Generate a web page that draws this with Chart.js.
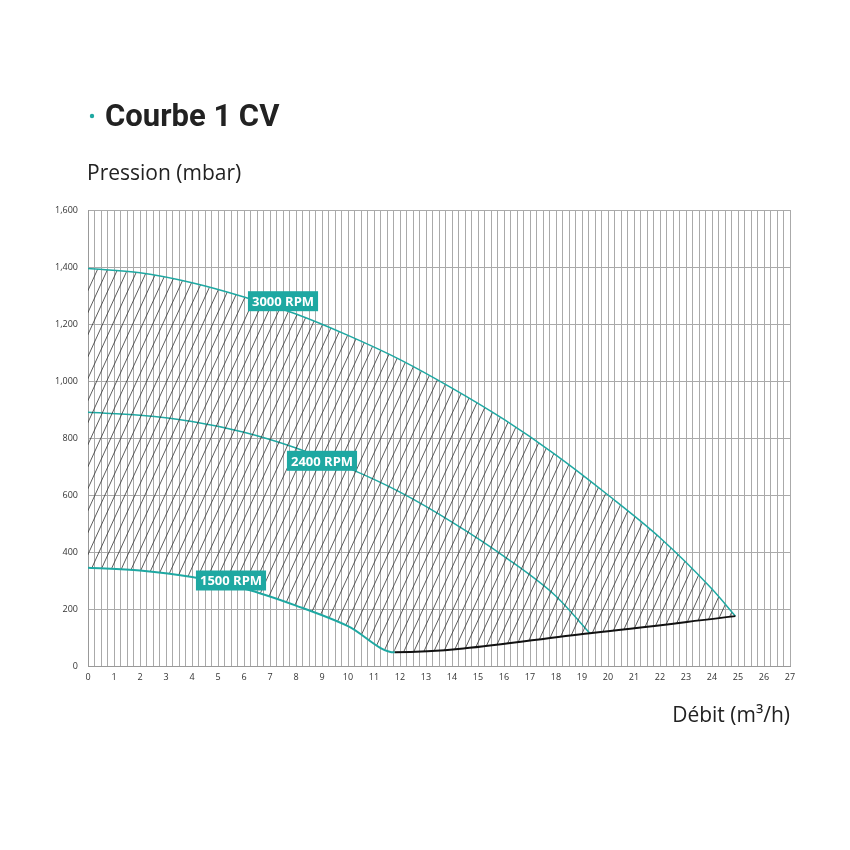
<!DOCTYPE html>
<html>
<head>
<meta charset="utf-8">
<script src="https://cdn.jsdelivr.net/npm/chart.js@4"></script>
<style>
  body { margin: 0; background: #fff; }
  #wrap { width: 850px; height: 850px; position: relative; }
</style>
</head>
<body>
<div id="wrap"><canvas id="c" width="850" height="850"></canvas></div>
<script>
// Curves (x: m3/h, y: mbar)
const rpm3000 = [[0,1395],[2,1380],[4,1345],[6,1295],[8,1235],[10,1160],[12,1075],[14,975],[16,865],[18,740],[20,600],[22,450],[24,270],[24.9,175]];
const rpm2400 = [[0,890],[2,880],[4,858],[6,820],[8,765],[10,695],[12,610],[14,505],[16,385],[18,245],[19.3,115]];
const rpm1500 = [[0,345],[2,335],[4,312],[6,272],[8,212],[10,140],[11.8,48]];
const minLine = [[11.8,48],[19.3,115],[24.9,175]];
const xTicks = [0,1,2,3,4,5,6,7,8,9,10,11,12,13,14,15,16,17,18,19,20,21,22,23,24,25,26,27];
const yTicks = [0,200,400,600,800,1000,1200,1400,1600];
const labels = [
  { text: '3000 RPM', x: 7.5, y: 1280 },
  { text: '2400 RPM', x: 9.0, y: 720 },
  { text: '1500 RPM', x: 5.5, y: 300 }
];

const teal = '#1ea8a2';
const toPts = a => a.map(p => ({ x: p[0], y: p[1] }));

// hatch pattern
const tile = document.createElement('canvas');
tile.width = 10; tile.height = 22;
const tc = tile.getContext('2d');
tc.strokeStyle = '#333'; tc.lineWidth = 0.8;
tc.beginPath();
tc.moveTo(-10, 44); tc.lineTo(20, -22);
tc.moveTo(-20, 44); tc.lineTo(10, -22);
tc.moveTo(0, 44); tc.lineTo(30, -22);
tc.stroke();
const hatch = document.getElementById('c').getContext('2d').createPattern(tile, 'repeat');

const lowerBound = toPts(rpm1500.concat(minLine.slice(1)));

const textPlugin = {
  id: 'texts',
  afterDatasetsDraw(chart) {
    const ctx = chart.ctx, xs = chart.scales.x, ys = chart.scales.y;
    ctx.save();
    ctx.font = 'bold 13px "Open Sans"';
    ctx.textAlign = 'center'; ctx.textBaseline = 'middle';
    labels.forEach(l => {
      const px = xs.getPixelForValue(l.x), py = ys.getPixelForValue(l.y);
      const w = ctx.measureText(l.text).width + 8;
      ctx.fillStyle = teal;
      ctx.fillRect(px - w / 2, py - 10, w, 20);
      ctx.fillStyle = '#fff';
      ctx.fillText(l.text, px, py + 1);
    });
    ctx.restore();
  },
  afterDraw(chart) {
    const ctx = chart.ctx;
    ctx.save();
    ctx.fillStyle = teal;
    ctx.beginPath(); ctx.arc(92, 116, 2.2, 0, Math.PI * 2); ctx.fill();
    ctx.fillStyle = '#222';
    ctx.textBaseline = 'alphabetic';
    ctx.font = 'bold 31px Roboto';
    ctx.fillText('Courbe 1 CV', 105, 126);
    ctx.font = '21px "Open Sans"';
    ctx.fillText('Pression (mbar)', 87, 180);
    ctx.textAlign = 'right';
    ctx.fillText('Débit (m³/h)', 790, 722);
    ctx.restore();
  }
};

new Chart(document.getElementById('c'), {
  type: 'line',
  data: {
    datasets: [
      {
        data: lowerBound,
        borderWidth: 2,
        segment: { borderColor: s => s.p0.parsed.x >= 11.7 ? '#111' : teal },
        borderColor: teal,
        fill: false,
        cubicInterpolationMode: 'monotone'
      },
      {
        data: toPts(rpm3000),
        borderColor: teal,
        borderWidth: 1.5,
        backgroundColor: hatch,
        fill: '-1',
        cubicInterpolationMode: 'monotone'
      },
      {
        data: toPts(rpm2400),
        borderColor: teal,
        borderWidth: 1.5,
        fill: false,
        cubicInterpolationMode: 'monotone'
      }
    ]
  },
  options: {
    responsive: false,
    animation: false,
    elements: { point: { radius: 0 } },
    layout: { padding: { top: 210, right: 60, bottom: 154, left: 0 } },
    plugins: { legend: { display: false }, tooltip: { enabled: false } },
    scales: {
      x: {
        type: 'linear', min: 0, max: 27,
        afterBuildTicks: s => {
          const t = [];
          for (let i = 0; i <= 108; i++) t.push({ value: i / 4 });
          s.ticks = t;
        },
        afterFit: s => { s.height = 30; },
        grid: { color: '#aaa', lineWidth: 1, drawTicks: false },
        border: { color: '#999' },
        ticks: {
          autoSkip: false, maxRotation: 0, padding: 6,
          font: { size: 9, family: 'Open Sans' }, color: '#333',
          callback: v => xTicks.includes(v) ? String(v) : ''
        }
      },
      y: {
        min: 0, max: 1600,
        afterBuildTicks: s => { s.ticks = yTicks.map(v => ({ value: v })); },
        afterFit: s => { s.width = 88; },
        grid: { color: '#aaa', lineWidth: 1, drawTicks: false },
        border: { color: '#999' },
        ticks: { padding: 10, font: { size: 9, family: 'Open Sans' }, color: '#333' }
      }
    }
  },
  plugins: [textPlugin]
});
</script>
</body>
</html>
